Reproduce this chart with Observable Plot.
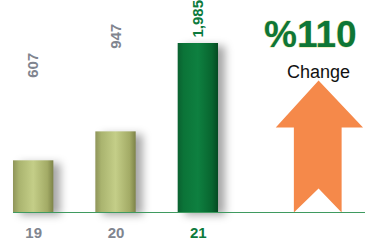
<!DOCTYPE html>
<html><head><meta charset="utf-8">
<script src="https://cdn.jsdelivr.net/npm/d3@7"></script>
<script src="https://cdn.jsdelivr.net/npm/@observablehq/plot@0.6"></script>
<style>
html,body{margin:0;padding:0;background:#fff;}
.bars rect{filter:drop-shadow(7px 3px 4px rgba(0,0,0,0.35));}
</style>
</head><body><div id="chart"></div>
<script>
const years = ["19", "20", "21"];
const values = [607, 947, 1985];
const labels = ["607", "947", "1,985"];
const changeLabel = "%110";
const changeText = "Change";
// block-arrow outline (x in year units, y in value units)
const arrowX = [22.46, 23.0, 22.74, 22.74, 22.46, 22.16, 22.16, 21.94, 22.46];
const arrowY = [1550, 998, 998, 0, 282, 0, 998, 998, 1550];

const data = years.map((y, i) => ({year: y, x: +y, value: values[i], label: labels[i], last: i === years.length - 1}));
const arrow = arrowX.map((x, i) => ({x, y: arrowY[i]}));
const half = 0.245;
const grey = "#80858f";
const green = "#0c7a3c";
const narrow = "Liberation Sans Narrow, Liberation Sans";

const chart = Plot.plot({
  width: 365, height: 242,
  marginLeft: 13, marginRight: 0, marginTop: 0, marginBottom: 30,
  x: {type: "linear", domain: [18.755, 23.03], axis: null},
  y: {domain: [0, 2490], axis: null},
  marks: [
    Plot.rectY(data, {x1: d => d.x - half, x2: d => d.x + half, y: "value",
      fill: d => d.last ? "url(#gGreen)" : "url(#gOlive)", className: "bars"}),
    Plot.line(arrow, {x: "x", y: "y", fill: "#f5894a", stroke: "none", curve: "linear"}),
    Plot.ruleY([0], {stroke: "#3f9a60", strokeWidth: 1.2}),
    Plot.text(data.filter(d => !d.last), {x: "x", y: "value", text: "label", rotate: -90, textAnchor: "start",
      dy: -83, fill: grey, fontWeight: "bold", fontSize: 15, fontFamily: narrow}),
    Plot.text(data.filter(d => d.last), {x: "x", y: "value", text: "label", rotate: -90, textAnchor: "start",
      dy: -6, fill: green, fontWeight: "bold", fontSize: 15, fontFamily: narrow}),
    Plot.text(data, {x: "x", y: 0, dy: 21, text: "year", fill: d => d.last ? green : grey,
      fontWeight: "bold", fontSize: 15, fontFamily: "Liberation Sans"}),
    Plot.text([changeLabel], {x: 22.36, frameAnchor: "top", lineAnchor: "top", dy: 20, text: d => d, fill: "#0e7636",
      stroke: "#e6e4a0", strokeWidth: 0.8, paintOrder: "stroke",
      fontWeight: "bold", fontSize: 37, fontFamily: "Liberation Sans"}),
    Plot.text([changeText], {x: 22.46, frameAnchor: "top", lineAnchor: "top", dy: 65, text: d => d, fill: "#111",
      fontSize: 18, fontFamily: "Liberation Sans"})
  ]
});
const ns = "http://www.w3.org/2000/svg";
const defs = document.createElementNS(ns, "defs");
defs.innerHTML = `
<linearGradient id="gOlive" x1="0" x2="1" y1="0" y2="0">
 <stop offset="0" stop-color="#8f955a"/><stop offset="0.15" stop-color="#aab46f"/>
 <stop offset="0.5" stop-color="#c4ce88"/><stop offset="0.85" stop-color="#a3ab66"/>
 <stop offset="1" stop-color="#7d8348"/></linearGradient>
<linearGradient id="gGreen" x1="0" x2="1" y1="0" y2="0">
 <stop offset="0" stop-color="#0a6130"/><stop offset="0.15" stop-color="#0b7438"/>
 <stop offset="0.5" stop-color="#0e8040"/><stop offset="0.85" stop-color="#08652f"/>
 <stop offset="1" stop-color="#054a22"/></linearGradient>`;
chart.insertBefore(defs, chart.firstChild);
document.getElementById("chart").appendChild(chart);
</script></body></html>
